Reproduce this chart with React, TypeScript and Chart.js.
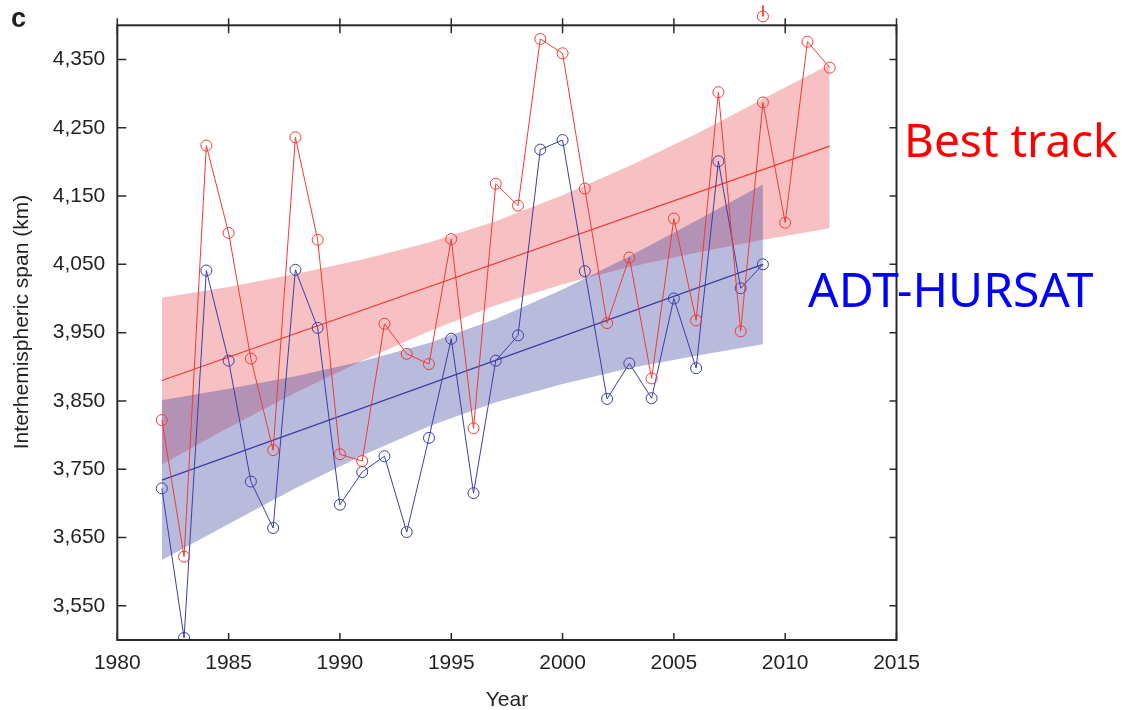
import { useEffect, useRef } from "react";
import { Chart, registerables } from "chart.js";

Chart.register(...registerables);

// Annual interhemispheric span of tropical cyclone lifetime-maximum-intensity positions (km)
const years = [
  1982, 1983, 1984, 1985, 1986, 1987, 1988, 1989, 1990, 1991, 1992, 1993, 1994, 1995, 1996, 1997,
  1998, 1999, 2000, 2001, 2002, 2003, 2004, 2005, 2006, 2007, 2008, 2009, 2010, 2011, 2012,
];
const bestTrack = [
  3822, 3622, 4224, 4096, 3912, 3778, 4236, 4086, 3772, 3762, 3963, 3919, 3904, 4087, 3810, 4168,
  4136, 4380, 4359, 4161, 3964, 4060, 3883, 4117, 3968, 4302, 3952, 4287, 4111, 4376, 4338,
];
const adtYears = years.slice(0, 28); // 1982–2009
const adtHursat = [
  3722, 3503, 4041, 3909, 3732, 3664, 4042, 3957, 3698, 3746, 3769, 3658, 3796, 3941, 3715, 3909,
  3946, 4218, 4232, 4040, 3853, 3905, 3854, 4000, 3898, 4201, 4015, 4050,
];

// Linear trends (end points) and their confidence bands
const bestTrendYears = [1982, 2012];
const bestTrend = [3880, 4223];
const adtTrendYears = [1982, 2009];
const adtTrend = [3734, 4050];

const bestBandYears = [1982, 1985, 1988, 1991, 1994, 1997, 2000, 2003, 2006, 2009, 2012];
const bestBandUpper = [4001, 4017, 4036, 4057, 4082, 4113, 4151, 4194, 4241, 4292, 4343];
const bestBandLower = [3757, 3811, 3862, 3909, 3952, 3990, 4021, 4046, 4067, 4086, 4103];
const adtBandYears = [1982, 1985, 1988, 1991, 1994, 1997, 2000, 2003, 2006, 2009];
const adtBandUpper = [3851, 3868, 3886, 3908, 3935, 3970, 4013, 4062, 4114, 4167];
const adtBandLower = [3617, 3670, 3722, 3770, 3813, 3848, 3875, 3898, 3916, 3933];

// Marker that pokes out above the top of the frame (stem end, circle centre)
const clippedMarkYears = [2009, 2009];
const clippedMarkValues = [4429, 4413];

const xTicks = [1980, 1985, 1990, 1995, 2000, 2005, 2010, 2015];
const yTicks = [3550, 3650, 3750, 3850, 3950, 4050, 4150, 4250, 4350];

const RED = "rgb(240,58,52)";
const BLUE = "rgb(58,62,165)";
const INK = "#231f20";

const pts = (xs: number[], ys: number[]) => xs.map((x, i) => ({ x, y: ys[i] }));

const framePlugin = {
  id: "frame",
  afterDatasetsDraw(chart: any) {
    const { ctx, chartArea, scales } = chart;
    const { left, right, top, bottom } = chartArea;
    const xs = scales.x;
    const ys = scales.y;
    ctx.save();

    // circle of the marker sitting above the frame (points outside the area are skipped by Chart.js)
    const cx = xs.getPixelForValue(clippedMarkYears[1]);
    const cy = ys.getPixelForValue(clippedMarkValues[1]);
    ctx.strokeStyle = RED;
    ctx.lineWidth = 1;
    ctx.beginPath();
    ctx.arc(cx, cy, 5.5, 0, Math.PI * 2);
    ctx.stroke();

    ctx.strokeStyle = "#2a2a2a";
    ctx.lineWidth = 2;
    ctx.strokeRect(left, top, right - left, bottom - top);
    ctx.lineWidth = 1.5;
    ctx.beginPath();
    xTicks.forEach((v) => {
      const px = xs.getPixelForValue(v);
      ctx.moveTo(px, bottom);
      ctx.lineTo(px, bottom - 7);
      ctx.moveTo(px, top - 7);
      ctx.lineTo(px, top + 8);
    });
    yTicks.forEach((v) => {
      const py = ys.getPixelForValue(v);
      ctx.moveTo(left, py);
      ctx.lineTo(left + 9, py);
      ctx.moveTo(right, py);
      ctx.lineTo(right - 7, py);
    });
    ctx.stroke();
    ctx.restore();
  },
  afterDraw(chart: any) {
    const { ctx } = chart;
    ctx.save();
    ctx.fillStyle = INK;
    ctx.font = 'bold 27px "Liberation Sans"';
    ctx.textAlign = "left";
    ctx.textBaseline = "alphabetic";
    ctx.fillText("c", 11, 27);

    ctx.font = '21px "Liberation Sans"';
    ctx.textAlign = "center";
    ctx.fillText("Year", 507, 706);

    ctx.save();
    ctx.translate(22, 322);
    ctx.rotate(-Math.PI / 2);
    ctx.textBaseline = "middle";
    ctx.fillText("Interhemispheric span (km)", 0, 0);
    ctx.restore();

    ctx.textAlign = "left";
    ctx.textBaseline = "alphabetic";
    ctx.font = '46px "Noto Sans"';
    ctx.fillStyle = "#ff0000";
    ctx.fillText("Best track", 904, 157);
    ctx.font = '48px "Noto Sans"';
    ctx.fillStyle = "#0000ff";
    ctx.fillText("ADT-HURSAT", 808, 307);
    ctx.restore();
  },
};

export default function App() {
  const canvasRef = useRef<HTMLCanvasElement | null>(null);

  useEffect(() => {
    const canvas = canvasRef.current;
    if (!canvas) return;
    const chart = new Chart(canvas, {
      type: "line",
      data: {
        datasets: [
          {
            label: "Best track band upper",
            data: pts(bestBandYears, bestBandUpper),
            borderWidth: 0,
            pointRadius: 0,
            fill: false,
            order: 10,
          },
          {
            label: "Best track band",
            data: pts(bestBandYears, bestBandLower),
            borderWidth: 0,
            pointRadius: 0,
            fill: "-1",
            backgroundColor: "rgba(228,48,55,0.3)",
            order: 9,
          },
          {
            label: "ADT-HURSAT band upper",
            data: pts(adtBandYears, adtBandUpper),
            borderWidth: 0,
            pointRadius: 0,
            fill: false,
            order: 8,
          },
          {
            label: "ADT-HURSAT band",
            data: pts(adtBandYears, adtBandLower),
            borderWidth: 0,
            pointRadius: 0,
            fill: "-1",
            backgroundColor: "rgba(55,61,155,0.35)",
            order: 7,
          },
          {
            label: "Best track trend",
            data: pts(bestTrendYears, bestTrend),
            borderColor: RED,
            borderWidth: 1.2,
            pointRadius: 0,
            fill: false,
            order: 4,
          },
          {
            label: "ADT-HURSAT trend",
            data: pts(adtTrendYears, adtTrend),
            borderColor: BLUE,
            borderWidth: 1.2,
            pointRadius: 0,
            fill: false,
            order: 3,
          },
          {
            label: "ADT-HURSAT",
            data: pts(adtYears, adtHursat),
            borderColor: BLUE,
            borderWidth: 1,
            pointRadius: 5.5,
            pointBorderWidth: 1,
            pointBorderColor: BLUE,
            pointBackgroundColor: "rgba(0,0,0,0)",
            fill: false,
            order: 1,
          },
          {
            label: "Best track",
            data: pts(years, bestTrack),
            borderColor: RED,
            borderWidth: 1,
            pointRadius: 5.5,
            pointBorderWidth: 1,
            pointBorderColor: RED,
            pointBackgroundColor: "rgba(0,0,0,0)",
            fill: false,
            order: 0,
          },
          {
            label: "clipped mark",
            data: pts(clippedMarkYears, clippedMarkValues),
            borderColor: RED,
            borderWidth: 1,
            pointRadius: 0,
            fill: false,
            clip: false,
            order: 0,
          },
        ],
      },
      options: {
        responsive: false,
        animation: false,
        events: [],
        layout: { padding: { left: 0, top: 25.3, right: 225.5, bottom: 0 } },
        plugins: { legend: { display: false }, tooltip: { enabled: false } },
        elements: { line: { tension: 0 } },
        scales: {
          x: {
            type: "linear",
            min: 1980,
            max: 2015,
            grid: { display: false },
            border: { display: false },
            afterBuildTicks: (scale: any) => {
              scale.ticks = xTicks.map((value) => ({ value }));
            },
            afterFit: (scale: any) => {
              scale.height = 70;
            },
            ticks: {
              padding: 3,
              color: INK,
              font: { family: '"Liberation Sans"', size: 21 },
              maxRotation: 0,
              callback: (v: any) => String(v),
            },
          },
          y: {
            type: "linear",
            min: 3500,
            max: 4400,
            grid: { display: false },
            border: { display: false },
            afterBuildTicks: (scale: any) => {
              scale.ticks = yTicks.map((value) => ({ value }));
            },
            afterFit: (scale: any) => {
              scale.width = 117.3;
            },
            ticks: {
              padding: 4,
              color: INK,
              font: { family: '"Liberation Sans"', size: 21 },
              callback: (v: any) => Number(v).toLocaleString("en-US"),
            },
          },
        },
      },
      plugins: [framePlugin],
    });
    return () => chart.destroy();
  }, []);

  return (
    <div style={{ position: "fixed", left: 0, top: 0, width: 1122, height: 710, background: "#fff" }}>
      <canvas ref={canvasRef} width={1122} height={710} />
    </div>
  );
}
